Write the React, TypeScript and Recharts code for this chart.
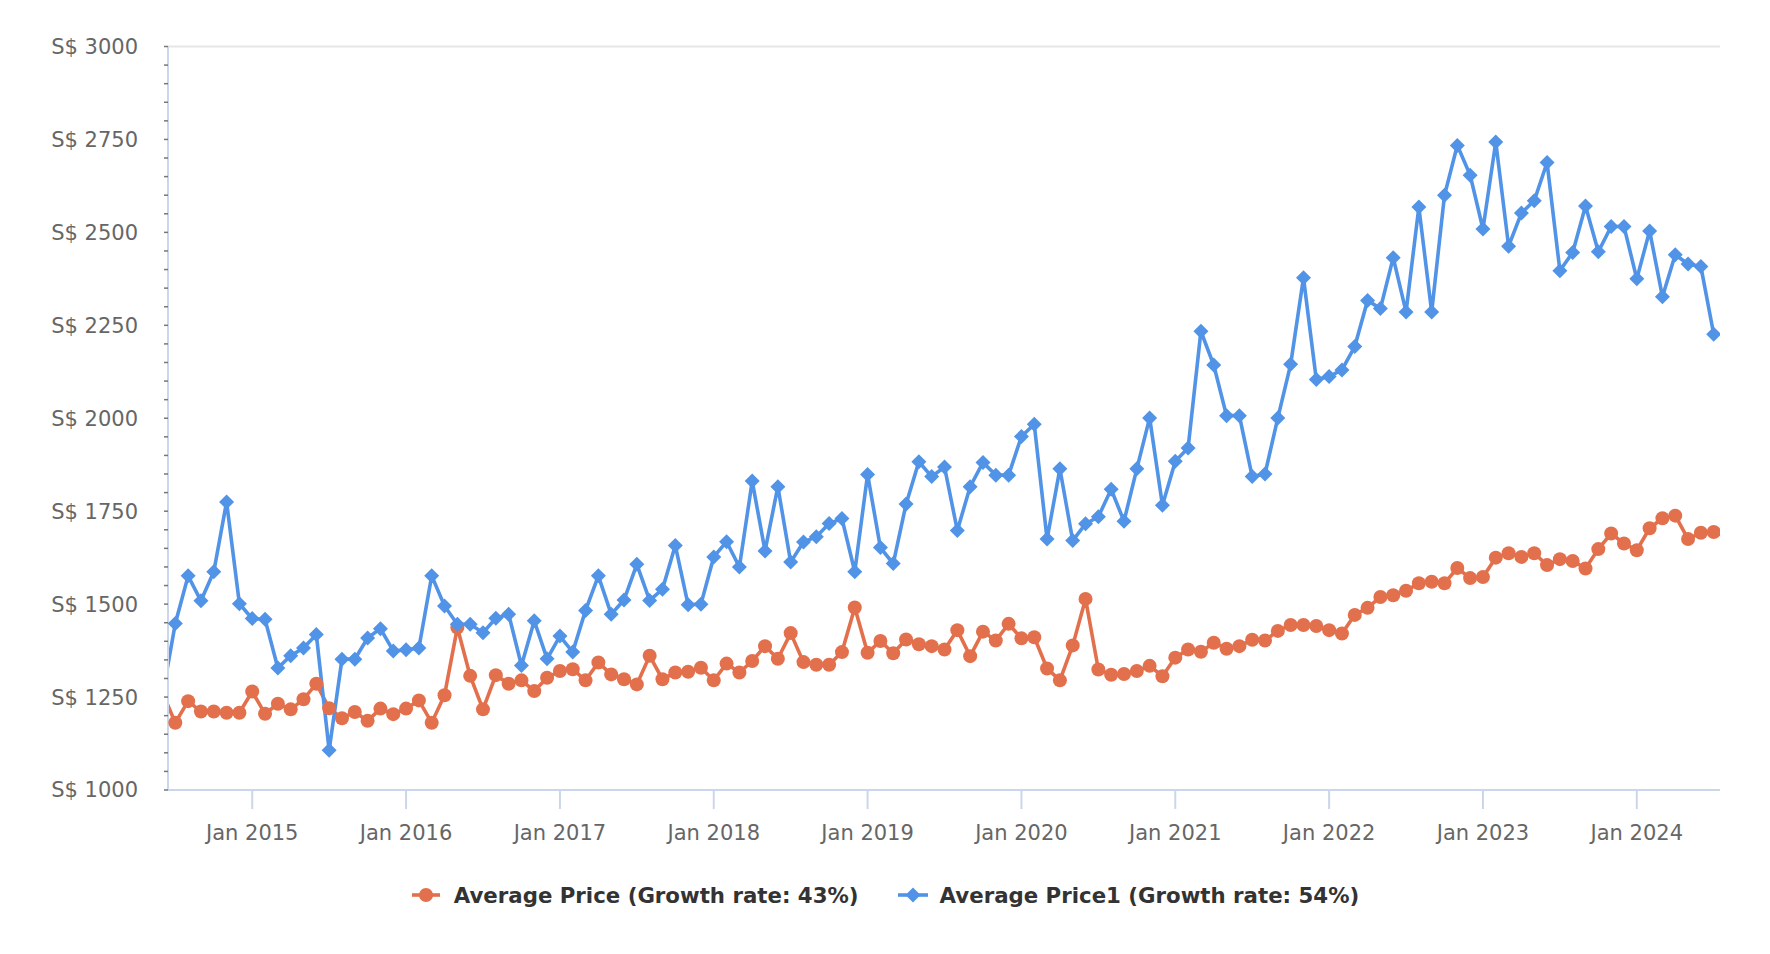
import React from 'react';
import { LineChart, Line, XAxis, YAxis, CartesianGrid, Legend } from 'recharts';

const RED = '#E3704C';
const BLUE = '#5193E6';
const AXIS = '#ccd6eb';

// months counted from Jan 2014; first value is Jun 2014 (partly outside the plot)
const FIRST_MONTH = 5;
const X_DOMAIN: [number, number] = [5.43, 126.49];

const averagePrice = [
  // 2014 (Jun-Dec)
  1262, 1181, 1239, 1211, 1211, 1208, 1208,
  // 2015
  1265, 1205, 1232, 1217, 1244, 1286, 1220, 1193, 1210, 1186, 1219, 1204,
  // 2016
  1219, 1241, 1181, 1255, 1437, 1307, 1217, 1309, 1286, 1295, 1266, 1302,
  // 2017
  1320, 1325, 1295, 1343, 1311, 1298, 1284, 1361, 1298, 1316, 1318, 1329,
  // 2018
  1295, 1340, 1316, 1347, 1387, 1353, 1422, 1344, 1337, 1337, 1371, 1491,
  // 2019
  1369, 1401, 1368, 1405, 1392, 1387, 1378, 1430, 1360, 1426, 1402, 1447,
  // 2020
  1408, 1411, 1327, 1295, 1389, 1514, 1324, 1310, 1312, 1320, 1334, 1306,
  // 2021
  1356, 1378, 1372, 1396, 1380, 1387, 1404, 1402, 1428, 1444, 1444, 1441,
  // 2022
  1430, 1421, 1471, 1490, 1519, 1524, 1536, 1556, 1560, 1556, 1597, 1570,
  // 2023
  1573, 1625, 1637, 1627, 1637, 1605, 1621, 1616, 1596, 1648, 1690, 1663,
  // 2024 (Jan-Jul)
  1645, 1704, 1731, 1738, 1675, 1692, 1694,
];

const averagePrice1 = [
  // 2014 (Jun-Dec)
  1254, 1448, 1576, 1509, 1587, 1775, 1501,
  // 2015
  1461, 1459, 1328, 1361, 1382, 1418, 1107, 1352, 1352, 1409, 1434, 1374,
  // 2016
  1377, 1382, 1576, 1495, 1446, 1446, 1423, 1462, 1473, 1335, 1455, 1353,
  // 2017
  1414, 1371, 1483, 1576, 1473, 1511, 1607, 1510, 1540, 1658, 1498, 1500,
  // 2018
  1627, 1668, 1600, 1831, 1643, 1816, 1613, 1667, 1681, 1717, 1730, 1587,
  // 2019
  1849, 1652, 1609, 1769, 1883, 1843, 1869, 1698, 1816, 1881, 1847, 1847,
  // 2020
  1951, 1984, 1675, 1864, 1671, 1716, 1735, 1809, 1723, 1864, 2001, 1766,
  // 2021
  1884, 1920, 2234, 2143, 2007, 2007, 1843, 1850, 2001, 2145, 2378, 2104,
  // 2022
  2112, 2130, 2193, 2317, 2295, 2432, 2286, 2568, 2286, 2600, 2734, 2654,
  // 2023
  2509, 2743, 2463, 2552, 2585, 2688, 2397, 2446, 2571, 2448, 2516, 2516,
  // 2024 (Jan-Jul)
  2375, 2504, 2327, 2440, 2415, 2408, 2226,
];

const xTicks = [12, 24, 36, 48, 60, 72, 84, 96, 108, 120];
const xTickLabels = ['Jan 2015', 'Jan 2016', 'Jan 2017', 'Jan 2018', 'Jan 2019',
  'Jan 2020', 'Jan 2021', 'Jan 2022', 'Jan 2023', 'Jan 2024'];
const yTicks = [1000, 1250, 1500, 1750, 2000, 2250, 2500, 2750, 3000];
const yMinorTicks: number[] = [];
for (let v = 1000; v <= 3000; v += 50) yMinorTicks.push(v);

const data = averagePrice.map((v, i) => ({
  month: FIRST_MONTH + i,
  avg: v,
  avg1: averagePrice1[i],
}));

const FONT = "'DejaVu Sans', Verdana, sans-serif";

// points left of the visible range only feed the line, no marker
const inRange = (p: any) => p && p.month >= X_DOMAIN[0] && p.month <= X_DOMAIN[1];

const Circle = (props: any) => {
  const { cx, cy, index, payload } = props;
  if (cx == null || cy == null || !inRange(payload)) return <g key={`c-${index}`} />;
  return <circle key={`c-${index}`} cx={cx} cy={cy} r={7} fill={RED} />;
};

const Diamond = (props: any) => {
  const { cx, cy, index, payload } = props;
  if (cx == null || cy == null || !inRange(payload)) return <g key={`d-${index}`} />;
  const r = 7.5;
  return (
    <path
      key={`d-${index}`}
      d={`M${cx},${cy - r}L${cx + r},${cy}L${cx},${cy + r}L${cx - r},${cy}Z`}
      fill={BLUE}
    />
  );
};

// every 50: small dark tick; every 250: label as well
const YTick = (props: any) => {
  const { x, y, payload } = props;
  const v = payload.value;
  return (
    <g>
      <line x1={x - 4} x2={x} y1={y} y2={y} stroke="#777" strokeWidth={1.5} />
      {v % 250 === 0 && (
        <text x={x - 30} y={y} dy="0.355em" textAnchor="end" fontSize={21} fill="#666" fontFamily={FONT}>
          {`S$ ${v}`}
        </text>
      )}
    </g>
  );
};

const LegendBox = () => (
  <div style={{ display: 'flex', justifyContent: 'center', alignItems: 'center', height: 50 }}>
    <div style={{ display: 'flex', alignItems: 'center', marginRight: 38 }}>
      <svg width={30} height={20} style={{ marginRight: 13 }}>
        <line x1={1} y1={10} x2={29} y2={10} stroke={RED} strokeWidth={3.6} />
        <circle cx={15} cy={10} r={7} fill={RED} />
      </svg>
      <span style={{ fontWeight: 'bold', fontSize: 21.3, color: '#333' }}>
        Average Price (Growth rate: 43%)
      </span>
    </div>
    <div style={{ display: 'flex', alignItems: 'center' }}>
      <svg width={32} height={20} style={{ marginRight: 11 }}>
        <line x1={1} y1={10} x2={31} y2={10} stroke={BLUE} strokeWidth={3.6} />
        <path d="M16,2.5L23.5,10L16,17.5L8.5,10Z" fill={BLUE} />
      </svg>
      <span style={{ fontWeight: 'bold', fontSize: 21.3, color: '#333' }}>
        Average Price1 (Growth rate: 54%)
      </span>
    </div>
  </div>
);

export default function App() {
  return (
    <div style={{ fontFamily: FONT }}>
      <LineChart
        width={1754}
        height={938}
        data={data}
        margin={{ top: 38.5, right: 42, bottom: 26, left: 0 }}
      >
        <CartesianGrid yAxisId="grid" vertical={false} stroke="#e6e6e6" strokeWidth={2} />
        <XAxis
          dataKey="month"
          type="number"
          domain={X_DOMAIN}
          allowDataOverflow
          ticks={xTicks}
          tickFormatter={(m: number) => xTickLabels[xTicks.indexOf(m)]}
          height={80}
          tickSize={19}
          tickMargin={16}
          axisLine={{ stroke: AXIS, strokeWidth: 2 }}
          tickLine={{ stroke: AXIS, strokeWidth: 2 }}
          tick={{ fontSize: 21, fill: '#666', fontFamily: FONT }}
        />
        <YAxis
          yAxisId="left"
          domain={[1000, 3000]}
          ticks={yMinorTicks}
          interval={0}
          width={160}
          tickSize={0}
          tickMargin={0}
          tickLine={false}
          axisLine={{ stroke: AXIS, strokeWidth: 2 }}
          tick={<YTick />}
        />
        {/* hidden zero-width axis that only gives the 250-step grid lines */}
        <YAxis yAxisId="grid" hide width={0} domain={[1000, 3000]} ticks={yTicks} />
        <YAxis
          yAxisId="right"
          orientation="right"
          domain={[1000, 3000]}
          width={0}
          tick={false}
          tickLine={false}
          axisLine={{ stroke: AXIS, strokeWidth: 2 }}
        />
        <Legend
          verticalAlign="bottom"
          height={50}
          width={1754}
          wrapperStyle={{ left: 0 }}
          content={<LegendBox />}
        />
        <Line
          yAxisId="left"
          type="linear"
          dataKey="avg"
          name="Average Price (Growth rate: 43%)"
          stroke={RED}
          strokeWidth={3.6}
          dot={<Circle />}
          activeDot={false}
          isAnimationActive={false}
        />
        <Line
          yAxisId="left"
          type="linear"
          dataKey="avg1"
          name="Average Price1 (Growth rate: 54%)"
          stroke={BLUE}
          strokeWidth={3.6}
          dot={<Diamond />}
          activeDot={false}
          isAnimationActive={false}
        />
      </LineChart>
    </div>
  );
}
